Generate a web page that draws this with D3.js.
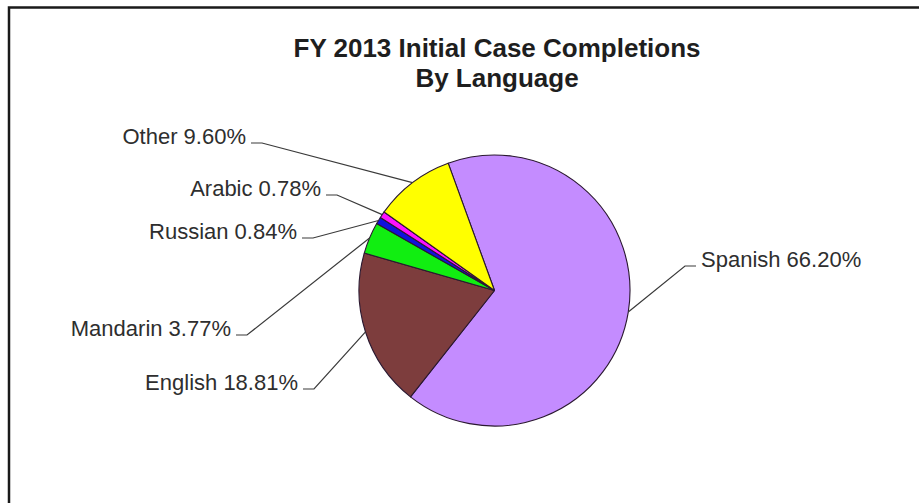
<!DOCTYPE html>
<html>
<head>
<meta charset="utf-8">
<script src="https://cdn.jsdelivr.net/npm/d3@7/dist/d3.min.js"></script>
<style>
  html, body { margin: 0; padding: 0; background: #fff; }
  svg { display: block; }
  text { font-family: "Liberation Sans", Arial, sans-serif; }
</style>
</head>
<body>
<svg id="chart" width="919" height="503"></svg>
<script>
// Share of FY 2013 initial case completions, clockwise from the top
const languages = ["Spanish", "English", "Mandarin", "Russian", "Arabic", "Other"];
const shares = [66.20, 18.81, 3.77, 0.84, 0.78, 9.60];
const sliceColors = ["#c48cff", "#7d3d3d", "#11ee11", "#1111dd", "#ff11ff", "#ffff00"];
const titleLines = ["FY 2013 Initial Case Completions", "By Language"];

// Where each label's leader line bends (same order as languages)
const labelElbows = [
  { x: 685, y: 266, side: "right" },
  { x: 314, y: 389, side: "left" },
  { x: 247, y: 335, side: "left" },
  { x: 313, y: 238, side: "left" },
  { x: 337, y: 195, side: "left" },
  { x: 262, y: 143, side: "left" }
];

const svg = d3.select("#chart");
const cx = 494.5, cy = 290.5, radius = 135.5;

// Frame
svg.append("path")
  .attr("d", "M9,503 V7.5 H919")
  .attr("fill", "none")
  .attr("stroke", "#1a1a1a")
  .attr("stroke-width", 2.5);

// Title
svg.append("g").selectAll("text")
  .data(titleLines)
  .join("text")
  .attr("x", 497)
  .attr("y", (d, i) => 57 + i * 30)
  .attr("text-anchor", "middle")
  .attr("font-size", 26)
  .attr("font-weight", "bold")
  .attr("fill", "#1e1e1e")
  .text(d => d);

const data = languages.map((name, i) => ({ name, value: shares[i], color: sliceColors[i], elbow: labelElbows[i] }));

const pie = d3.pie()
  .sort(null)
  .value(d => d.value)
  .startAngle(-20 * Math.PI / 180)
  .endAngle(340 * Math.PI / 180);

const arcs = pie(data);
const arc = d3.arc().innerRadius(0).outerRadius(radius);
const rim = d3.arc().innerRadius(radius).outerRadius(radius);

const g = svg.append("g").attr("transform", `translate(${cx},${cy})`);

g.selectAll("path.slice")
  .data(arcs)
  .join("path")
  .attr("class", "slice")
  .attr("d", arc)
  .attr("fill", d => d.data.color)
  .attr("stroke", "#2a1830")
  .attr("stroke-width", 1.1)
  .attr("stroke-linejoin", "round");

// Leader lines and labels
const underline = 11, textGap = 16;
const labels = svg.append("g");
arcs.forEach(d => {
  const [px, py] = rim.centroid(d);
  const e = d.data.elbow;
  const dir = e.side === "left" ? -1 : 1;
  labels.append("path")
    .attr("d", `M${cx + px},${cy + py} L${e.x},${e.y} H${e.x + dir * underline}`)
    .attr("fill", "none")
    .attr("stroke", "#3a3a3a")
    .attr("stroke-width", 1.2);
  labels.append("text")
    .attr("x", e.x + dir * textGap)
    .attr("y", e.y + 1)
    .attr("text-anchor", dir < 0 ? "end" : "start")
    .attr("font-size", 22)
    .attr("fill", "#2e2e2e")
    .text(`${d.data.name} ${d3.format(".2f")(d.data.value)}%`);
});
</script>
</body>
</html>
